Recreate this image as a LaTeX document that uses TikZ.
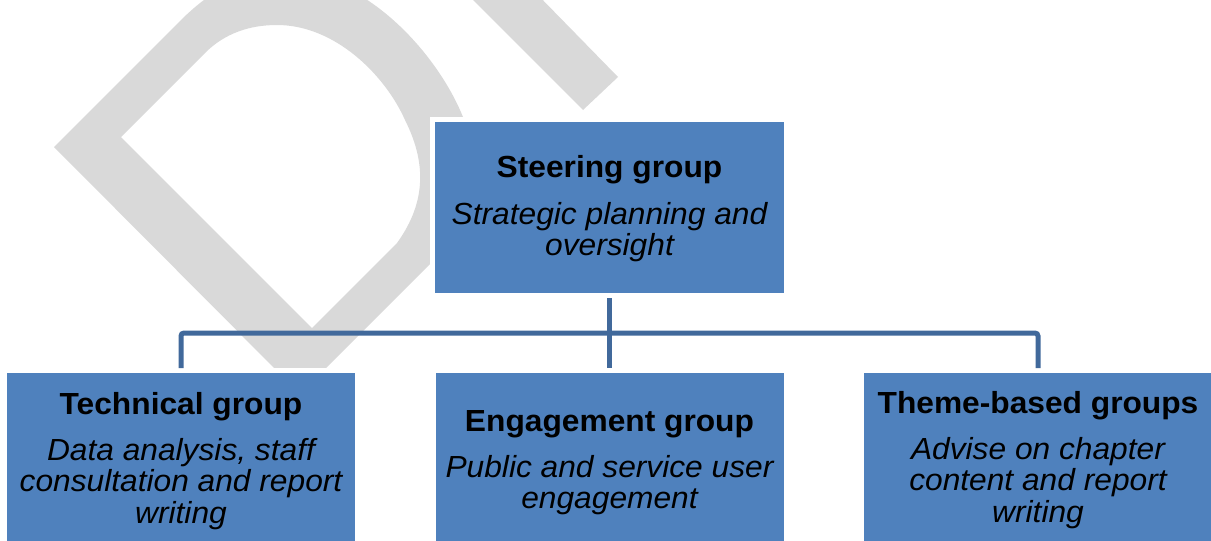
\documentclass[tikz,border=0pt]{standalone}
\usepackage{fontspec}
\setmainfont{Liberation Sans}[FakeStretch=1.04]
\definecolor{boxblue}{HTML}{4F81BD}
\definecolor{linkblue}{HTML}{41699B}
\definecolor{wmgray}{HTML}{D9D9D9}
\begin{document}
\begin{tikzpicture}[x=1pt,y=-1pt,
  box/.style={rectangle, draw=white, line width=5pt, fill=boxblue, inner sep=0pt},
  topbox/.style={box, minimum width=354pt, minimum height=176pt},
  lowbox/.style={box, minimum width=353pt, minimum height=229.5pt},
  conn/.style={draw=linkblue, line width=5pt, rounded corners=3pt},
  ttl/.style={font=\fontsize{30.5}{31.5}\selectfont\bfseries, anchor=base, inner sep=0pt, text=black},
  desc/.style={font=\fontsize{30.5}{31.5}\selectfont\itshape, anchor=base, inner sep=0pt, text=black}]
\useasboundingbox (0,0) rectangle (1211,541);
\clip (0,0) rectangle (1211,541);
% watermark
\fill[wmgray, even odd rule]
  (54,147) -- (180,21) .. controls (220,-19) and (260,-35) .. (310,-25)
  .. controls (380,-10) and (440,60) .. (463,117) -- (480,200) -- (430,264) -- (300,394) -- cycle
  (121,137) -- (205,53) .. controls (225,33) and (250,25) .. (277,25)
  .. controls (335,25) and (385,75) .. (405,120)
  .. controls (425,160) and (428,200) .. (397,243) -- (312,328) -- cycle;
\fill[wmgray] (463,-10) -- (533,-10) -- (618,77) -- (583,110) -- cycle;
% boxes
\node[topbox] (st) at (609.5,207.5) {};
\node[lowbox] (tech) at (181,485.25) {};
\node[lowbox] (eng) at (609.5,485.25) {};
\node[lowbox] (theme) at (1038,485.25) {};
% connectors
\coordinate (bus) at (609.5,333);
\draw[conn] (st.south) -- (eng.north);
\draw[conn] (tech.north) -- (tech.north |- bus) -- (theme.north |- bus) -- (theme.north);
% texts
\node[ttl] (st-t) at (609.5,177) {Steering group};
\node[desc] (st-d) at (609.5,224) {\parbox[t]{400pt}{\centering Strategic planning and\\oversight}};
\node[ttl] (tech-t) at (181,414) {Technical group};
\node[desc] (tech-d) at (181,460) {\parbox[t]{400pt}{\centering Data analysis, staff\\consultation and report\\writing}};
\node[ttl] (eng-t) at (609.5,431) {Engagement group};
\node[desc] (eng-d) at (609.5,477) {\parbox[t]{400pt}{\centering Public and service user\\engagement}};
\node[ttl] (theme-t) at (1038,413) {Theme-based groups};
\node[desc] (theme-d) at (1038,459) {\parbox[t]{400pt}{\centering Advise on chapter\\content and report\\writing}};
\end{tikzpicture}
\end{document}
